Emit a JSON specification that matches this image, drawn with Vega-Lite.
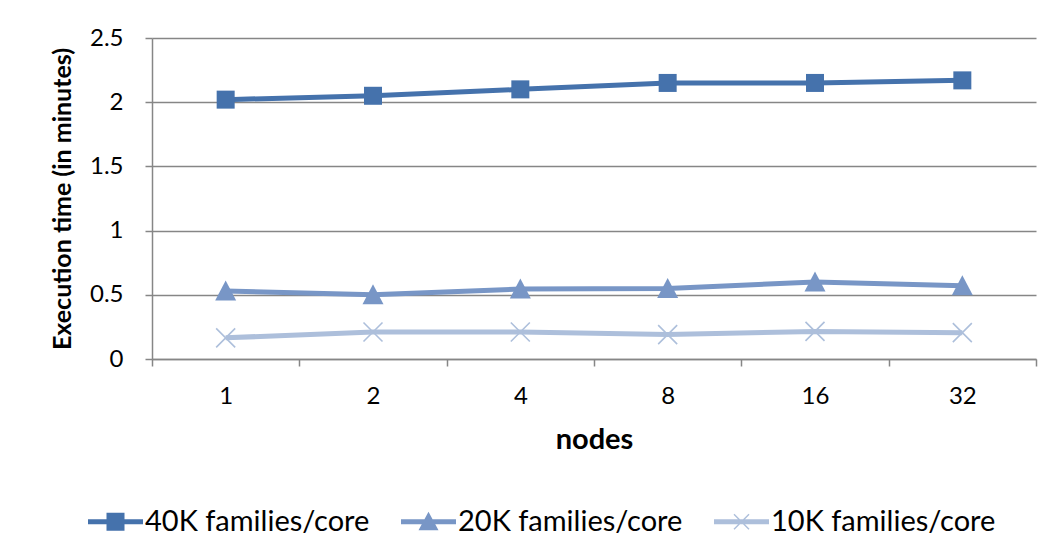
{
  "$schema": "https://vega.github.io/schema/vega-lite/v6.json",
  "autosize": "none",
  "padding": {"left": 152, "top": 38, "right": 22, "bottom": 201},
  "width": 884,
  "height": 321,
  "background": "white",
  "config": {
    "font": "Lato",
    "view": {"stroke": null},
    "axis": {"labelFont": "Lato", "titleFont": "Lato", "labelColor": "#000000", "titleColor": "#000000", "domainColor": "#868686", "tickColor": "#868686", "gridColor": "#868686"}
  },
  "data": {
    "values": [
      {"nodes": "1", "series": "40K families/core", "time": 2.02},
      {"nodes": "2", "series": "40K families/core", "time": 2.05},
      {"nodes": "4", "series": "40K families/core", "time": 2.1},
      {"nodes": "8", "series": "40K families/core", "time": 2.15},
      {"nodes": "16", "series": "40K families/core", "time": 2.15},
      {"nodes": "32", "series": "40K families/core", "time": 2.17},
      {"nodes": "1", "series": "20K families/core", "time": 0.53},
      {"nodes": "2", "series": "20K families/core", "time": 0.5},
      {"nodes": "4", "series": "20K families/core", "time": 0.545},
      {"nodes": "8", "series": "20K families/core", "time": 0.55},
      {"nodes": "16", "series": "20K families/core", "time": 0.6},
      {"nodes": "32", "series": "20K families/core", "time": 0.57},
      {"nodes": "1", "series": "10K families/core", "time": 0.165},
      {"nodes": "2", "series": "10K families/core", "time": 0.21},
      {"nodes": "4", "series": "10K families/core", "time": 0.21},
      {"nodes": "8", "series": "10K families/core", "time": 0.19},
      {"nodes": "16", "series": "10K families/core", "time": 0.215},
      {"nodes": "32", "series": "10K families/core", "time": 0.205}
    ]
  },
  "encoding": {
    "x": {
      "field": "nodes", "type": "ordinal", "sort": ["1", "2", "4", "8", "16", "32"],
      "scale": {"paddingInner": 0, "paddingOuter": 0},
      "axis": {
        "title": "nodes", "labelAngle": 0, "labelFontSize": 24, "titleFontSize": 29, "titleFontWeight": "bold",
        "tickBand": "extent", "tickSize": 7, "tickWidth": 1.5, "domainWidth": 1.5, "labelPadding": 18, "titlePadding": 17
      }
    },
    "y": {
      "field": "time", "type": "quantitative",
      "scale": {"domain": [0, 2.5], "nice": false},
      "axis": {
        "title": "Execution time (in minutes)", "values": [0, 0.5, 1, 1.5, 2, 2.5], "format": "~g", "labelFontSize": 24, "titleFontSize": 25, "titleFontWeight": "bold",
        "grid": true, "gridWidth": 1.5, "tickSize": 7, "tickWidth": 1.5, "domainWidth": 1.5, "labelPadding": 22, "titlePadding": 14
      }
    },
    "color": {
      "field": "series", "type": "nominal",
      "sort": ["40K families/core", "20K families/core", "10K families/core"],
      "scale": {"domain": ["40K families/core", "20K families/core", "10K families/core"], "range": ["#4572AC", "#7896C6", "#ADBFDB"]}
    }
  },
  "layer": [
    {
      "mark": {"type": "line", "strokeWidth": 5},
      "encoding": {
        "color": {
          "field": "series", "type": "nominal",
          "sort": ["40K families/core", "20K families/core", "10K families/core"],
          "scale": {"domain": ["40K families/core", "20K families/core", "10K families/core"], "range": ["#4572AC", "#7896C6", "#ADBFDB"]},
          "legend": {
            "title": null, "orient": "none", "direction": "horizontal", "legendX": -51, "legendY": 469,
            "labelFontSize": 29, "labelFont": "Lato", "labelColor": "#000000", "labelLimit": 500, "symbolSize": 400, "labelOffset": 15, "columnPadding": 31, "padding": 0,
            "encode": {
              "symbols": {
                "update": {
                  "shape": {"signal": "datum.value === '40K families/core' ? 'M-2.75,-0.25H2.75V0.25H-2.75Z M-0.9,-0.9H0.9V0.9H-0.9Z' : datum.value === '20K families/core' ? 'M-2.75,-0.25H2.75V0.25H-2.75Z M0,-1L1,0.85H-1Z' : 'M-2.75,-0.25H2.75V0.25H-2.75Z M-0.8,-0.7L-0.7,-0.8L0.8,0.7L0.7,0.8Z M0.7,-0.8L0.8,-0.7L-0.7,0.8L-0.8,0.7Z'"},
                  "fill": {"signal": "scale('color', datum.value)"},
                  "stroke": {"value": "transparent"},
                  "strokeWidth": {"value": 0},
                  "opacity": {"value": 1}
                }
              }
            }
          }
        }
      }
    },
    {
      "transform": [{"filter": "datum.series !== '10K families/core'"}],
      "mark": {"type": "point", "filled": true, "size": 400, "opacity": 1, "strokeWidth": 0},
      "encoding": {
        "shape": {
          "field": "series", "type": "nominal",
          "scale": {"domain": ["40K families/core", "20K families/core"], "range": ["M-0.9,-0.9H0.9V0.9H-0.9Z", "M0,-1.05L1.05,0.95H-1.05Z"]},
          "legend": null
        }
      }
    },
    {
      "transform": [{"filter": "datum.series === '10K families/core'"}],
      "mark": {"type": "point", "filled": false, "size": 400, "opacity": 1, "strokeWidth": 1.6, "shape": "M-0.95,-0.95L0.95,0.95M-0.95,0.95L0.95,-0.95"}
    }
  ]
}
